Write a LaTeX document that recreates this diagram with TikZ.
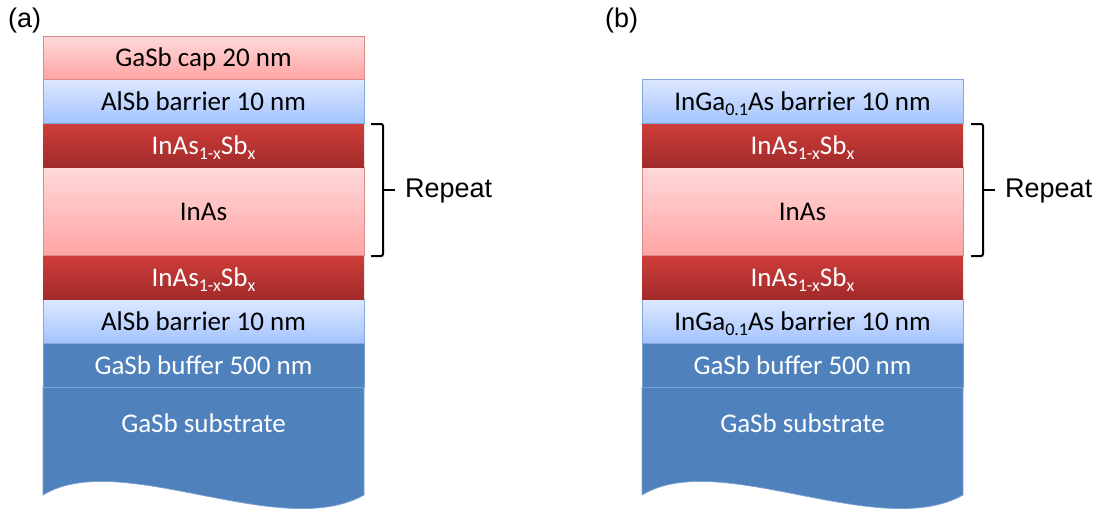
\documentclass[tikz,border=0pt]{standalone}
\usepackage{fontspec}
\setmainfont{Carlito}
\newfontfamily\arialf{Liberation Sans}
\definecolor{pinkT}{HTML}{FFD9D9}
\definecolor{pinkB}{HTML}{FFA5A5}
\definecolor{pinkE}{HTML}{D98A87}
\definecolor{blueT}{HTML}{DDE8FF}
\definecolor{blueB}{HTML}{A4C4FF}
\definecolor{blueE}{HTML}{82A8DE}
\definecolor{redT}{HTML}{CF3D3A}
\definecolor{redB}{HTML}{A12B2A}
\definecolor{subst}{HTML}{4F81BD}
\definecolor{substE}{HTML}{7DA1D2}
\newcommand\lsub[1]{\raisebox{-5pt}{\fontsize{18}{18}\selectfont #1}}
\tikzset{
  layer/.style={rectangle, minimum width=321pt, inner sep=0pt, outer sep=0pt,
    font=\fontsize{27}{27}\selectfont, text height=20pt, text depth=2pt, line width=0.7pt},
  pinklayer/.style={layer, top color=pinkT, bottom color=pinkB, draw=pinkE, text=black},
  bluelayer/.style={layer, top color=blueT, bottom color=blueB, draw=blueE, text=black},
  redlayer/.style={layer, top color=redT, bottom color=redB, text=white},
  darklayer/.style={layer, fill=subst, draw=substE, text=white},
  substext/.style={layer, text=white},
  panel/.style={font=\arialf\fontsize{27}{27}\selectfont, inner sep=0pt, anchor=west},
  brace/.style={line width=2pt, rounded corners=2pt},
}
\begin{document}
\begin{tikzpicture}[x=1pt, y=-1pt]
\useasboundingbox (0,0) rectangle (1099,512);

% ---------------- (a) ----------------
\node[panel] (labA) at (8,21) {(a)};
\path[fill=subst, draw=substE, line width=0.7pt] (43,387) -- (364,387) -- (364,495)
  .. controls (280,542) and (120,448) .. (43,495) -- cycle;
\node[substext] (subA) at (203.5,423) {GaSb substrate};
\node[darklayer, minimum height=44pt] (bufA) at (203.5,365) {GaSb buffer 500 nm};
\node[bluelayer, minimum height=44pt] (barA2) at (203.5,321) {AlSb barrier 10 nm};
\node[redlayer, minimum height=44pt] (sbA2) at (203.5,277) {InAs\lsub{1-x}Sb\lsub{x}};
\node[pinklayer, minimum height=88pt] (inasA) at (203.5,211) {InAs};
\node[redlayer, minimum height=44pt] (sbA1) at (203.5,145) {InAs\lsub{1-x}Sb\lsub{x}};
\node[bluelayer, minimum height=44pt] (barA1) at (203.5,101) {AlSb barrier 10 nm};
\node[pinklayer, minimum height=43pt] (capA) at (203.5,57.5) {GaSb cap 20 nm};

\coordinate (bA1) at (371,124);
\coordinate (bA2) at (383,190);
\coordinate (bA3) at (371,256);
\draw[brace] (bA1) -- (bA1 -| bA2) -- (bA2) -- (bA3 -| bA2) -- (bA3);
\node[panel] (repA) at (405,191) {Repeat};
\draw[line width=2pt] (bA2) -- ++(12,0);

% ---------------- (b) ----------------
\node[panel] (labB) at (605,21) {(b)};
\path[fill=subst, draw=substE, line width=0.7pt] (642,387) -- (963,387) -- (963,495)
  .. controls (879,542) and (719,448) .. (642,495) -- cycle;
\node[substext] (subB) at (802.5,423) {GaSb substrate};
\node[darklayer, minimum height=44pt] (bufB) at (802.5,365) {GaSb buffer 500 nm};
\node[bluelayer, minimum height=44pt] (barB2) at (802.5,321) {InGa\lsub{0.1}As barrier 10 nm};
\node[redlayer, minimum height=44pt] (sbB2) at (802.5,277) {InAs\lsub{1-x}Sb\lsub{x}};
\node[pinklayer, minimum height=88pt] (inasB) at (802.5,211) {InAs};
\node[redlayer, minimum height=44pt] (sbB1) at (802.5,145) {InAs\lsub{1-x}Sb\lsub{x}};
\node[bluelayer, minimum height=44pt] (barB1) at (802.5,101) {InGa\lsub{0.1}As barrier 10 nm};

\coordinate (bB1) at (971,124);
\coordinate (bB2) at (983,190);
\coordinate (bB3) at (971,256);
\draw[brace] (bB1) -- (bB1 -| bB2) -- (bB2) -- (bB3 -| bB2) -- (bB3);
\node[panel] (repB) at (1005,191) {Repeat};
\draw[line width=2pt] (bB2) -- ++(12,0);
\end{tikzpicture}
\end{document}
